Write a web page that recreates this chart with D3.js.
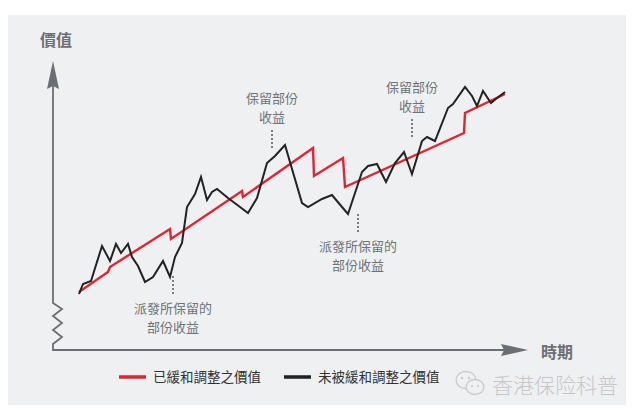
<!DOCTYPE html>
<html>
<head>
<meta charset="utf-8">
<script src="https://cdn.jsdelivr.net/npm/d3@7/dist/d3.min.js"></script>
<style>
html,body{margin:0;padding:0;background:#fff;}
svg{display:block;font-family:"Noto Sans CJK TC","Noto Sans CJK SC",sans-serif;}
</style>
</head>
<body>
<svg id="chart" width="640" height="418"></svg>
<script>
// Time period (t) and value (v)
const blackT = [2.6,3.0,3.8,4.9,5.7,6.3,6.8,7.5,7.9,8.5,9.2,10.0,11.0,11.7,12.2,12.9,13.4,14.2,14.8,15.4,15.9,16.4,17.5,18.7,19.5,20.4,21.4,22.2,23.2,24.9,25.5,26.9,27.9,28.9,29.5,30.3,30.9,31.5,32.4,33.3,34.2,35.1,35.9,36.9,37.4,38.2,39.5,40.0,41.2,41.9,42.4,43.0,43.8,44.4,45.2];
const blackV = [28,33,34.5,52,44.5,53,48.5,53,46.5,42,34,36.5,44.5,36.5,46.5,53.5,71.5,78,86.5,75,79,80.5,76,71.5,68.5,76,93.5,97,102.5,73.5,71.5,75.5,77.5,71.5,68,80,89,92,93,84,93.5,99,88,104.5,106.5,104.5,121,123,131.5,127,122,129.5,123.5,126,129];
const redT = [2.6,5.5,5.7,11.7,11.8,18.9,19.0,26.0,26.1,29.0,29.2,41.1,41.2,45.2];
const redV = [29,39,41.5,60.5,55.5,79.5,76.5,101,87,96,81.5,108.5,118.5,128];
const seriesNames = ["已緩和調整之價值","未被緩和調整之價值"];
const seriesColors = ["#e3232f","#222222"];
const annoT = [21.9, 35.9, 12.0, 30.5];
const annoLines = [["保留部份","收益"],["保留部份","收益"],["派發所保留的","部份收益"],["派發所保留的","部份收益"]];
const annoPos = ["above","above","below","below"];
const yTitle = "價值";
const xTitle = "時期";
const watermark = "香港保险科普";

const svg = d3.select("#chart");
svg.append("rect").attr("x",8).attr("y",15).attr("width",618).attr("height",390).attr("fill","#eff0f2");

const x = d3.scaleLinear().domain([0,47.4]).range([53,527]);
const y = d3.scaleLinear().domain([0,144]).range([350,62]);

const axisColor = "#6b6f74";
// y axis with zigzag break
const yPath = d3.path();
yPath.moveTo(53, 85); yPath.lineTo(53, 303);
const zz = [[62,309],[53,316],[62,323],[53,330],[62,337],[53,344]];
zz.forEach(p=>yPath.lineTo(p[0],p[1]));
yPath.lineTo(53,350); yPath.lineTo(505,350);
svg.append("path").attr("d",yPath.toString()).attr("fill","none").attr("stroke",axisColor).attr("stroke-width",1.8);
// arrowheads
svg.append("path").attr("d","M53,61 L59,89 L53,86 L47,89 Z").attr("fill",axisColor);
svg.append("path").attr("d","M528,350 L501,344 L504,350 L501,356 Z").attr("fill",axisColor);

svg.append("text").attr("x",56).attr("y",46).attr("text-anchor","middle").attr("font-size",16).attr("font-weight","bold").attr("fill",axisColor).text(yTitle);
svg.append("text").attr("x",557).attr("y",358).attr("text-anchor","middle").attr("font-size",16).attr("font-weight","bold").attr("fill",axisColor).text(xTitle);

const line = d3.line().x(d=>x(d[0])).y(d=>y(d[1]));
const redData = redT.map((t,i)=>[t,redV[i]]);
const blackData = blackT.map((t,i)=>[t,blackV[i]]);
svg.append("path").datum(redData).attr("d",line).attr("fill","none").attr("stroke",seriesColors[0]).attr("stroke-width",2.4).attr("stroke-linejoin","miter");
svg.append("path").datum(blackData).attr("d",line).attr("fill","none").attr("stroke",seriesColors[1]).attr("stroke-width",2).attr("stroke-linejoin","miter");

// annotations
const annoColor = "#6e7378";
annoT.forEach((t,i)=>{
  const cx = x(t);
  const g = svg.append("g");
  if (annoPos[i]==="above") {
    const top = i===0 ? 103 : 92;
    g.append("line").attr("x1",cx).attr("x2",cx).attr("y1",i===0?130:119).attr("y2",i===0?149:138)
      .attr("stroke","#555").attr("stroke-width",1.5).attr("stroke-dasharray","2,2");
    annoLines[i].forEach((s,j)=>g.append("text").attr("x",cx).attr("y",top+j*19).attr("text-anchor","middle")
      .attr("font-size",13).attr("fill",annoColor).text(s));
  } else {
    const lt = i===2 ? 276 : 214;
    g.append("line").attr("x1",cx).attr("x2",cx).attr("y1",lt).attr("y2",lt+19)
      .attr("stroke","#555").attr("stroke-width",1.5).attr("stroke-dasharray","2,2");
    annoLines[i].forEach((s,j)=>g.append("text").attr("x",cx).attr("y",lt+37+j*19).attr("text-anchor","middle")
      .attr("font-size",13).attr("fill",annoColor).text(s));
  }
});

// legend
const legX = [119, 284];
seriesNames.forEach((n,i)=>{
  svg.append("line").attr("x1",legX[i]).attr("x2",legX[i]+27).attr("y1",377).attr("y2",377)
    .attr("stroke",seriesColors[i]).attr("stroke-width",3.5);
  svg.append("text").attr("x",legX[i]+34).attr("y",382).attr("font-size",13.5).attr("fill","#333").text(n);
});

// watermark
const wm = svg.append("g").attr("fill","none").attr("stroke","#c9cacc").attr("stroke-width",1.3);
wm.append("ellipse").attr("cx",466).attr("cy",380).attr("rx",10).attr("ry",8.5);
wm.append("ellipse").attr("cx",475).attr("cy",387).attr("rx",9).attr("ry",7.5).attr("fill","#eff0f2");
svg.append("circle").attr("cx",462).attr("cy",378).attr("r",1.2).attr("fill","#c9cacc");
svg.append("circle").attr("cx",469).attr("cy",378).attr("r",1.2).attr("fill","#c9cacc");
svg.append("circle").attr("cx",472).attr("cy",386).attr("r",1.1).attr("fill","#c9cacc");
svg.append("circle").attr("cx",478).attr("cy",386).attr("r",1.1).attr("fill","#c9cacc");
svg.append("text").attr("x",492).attr("y",393).attr("font-size",21).attr("font-weight",300)
  .attr("fill","#c6c7c9").attr("font-family","'Noto Sans CJK SC',sans-serif").text(watermark);
</script>
</body>
</html>
